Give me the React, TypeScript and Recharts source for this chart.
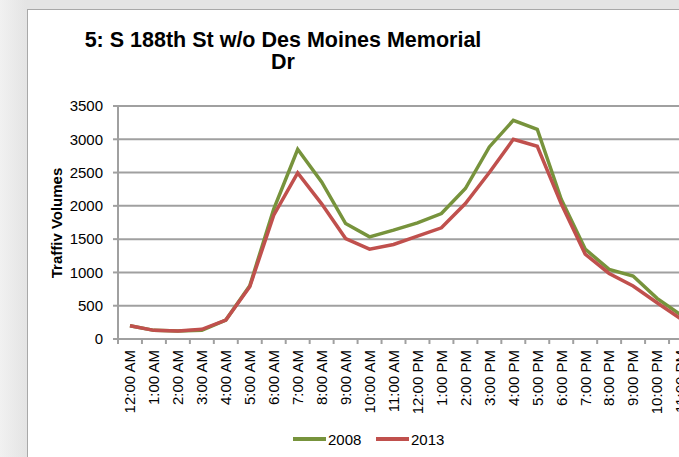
import React from "react";
import { LineChart, Line, XAxis, YAxis, CartesianGrid } from "recharts";

const hours = [
  "12:00 AM", "1:00 AM", "2:00 AM", "3:00 AM", "4:00 AM", "5:00 AM",
  "6:00 AM", "7:00 AM", "8:00 AM", "9:00 AM", "10:00 AM", "11:00 AM",
  "12:00 PM", "1:00 PM", "2:00 PM", "3:00 PM", "4:00 PM", "5:00 PM",
  "6:00 PM", "7:00 PM", "8:00 PM", "9:00 PM", "10:00 PM", "11:00 PM",
];
const vol2008 = [
  200, 130, 120, 130, 285, 800, 1950, 2850, 2360, 1735, 1535, 1635,
  1745, 1885, 2260, 2885, 3285, 3150, 2100, 1350, 1045, 945, 610, 360,
];
const vol2013 = [
  200, 130, 120, 145, 285, 785, 1860, 2495, 2030, 1510, 1350, 1420,
  1545, 1670, 2035, 2500, 3000, 2895, 2030, 1275, 985, 795, 545, 300,
];
const yTicks = [0, 500, 1000, 1500, 2000, 2500, 3000, 3500];

const data = hours.map((hour, i) => ({ hour, v2008: vol2008[i], v2013: vol2013[i] }));

const GREEN = "#77933C";
const RED = "#C0504D";
const GRID = "#a0a0a0";
const CHART_W = 720;
const MARGIN_R = 27;
const AXIS_W = 118;
const BAND = (CHART_W - MARGIN_R - AXIS_W) / hours.length;

// tick marks sit between categories, labels at the category centre
const HourTick = (props: any) => {
  const { x, y, payload } = props;
  const ty = y + 11;
  return (
    <g>
      <line x1={x - BAND / 2} y1={y} x2={x - BAND / 2} y2={y + 5} stroke={GRID} strokeWidth={2} />
      <text
        x={x}
        y={ty}
        transform={`rotate(-90 ${x} ${ty})`}
        textAnchor="end"
        dy="0.355em"
        fontSize={15}
        fill="#000"
      >
        {payload.value}
      </text>
    </g>
  );
};

export default function App() {
  return (
    <div
      style={{
        position: "fixed",
        left: 0,
        top: 0,
        width: 679,
        height: 457,
        overflow: "hidden",
        background: "linear-gradient(to right, #f1f1f1 0px, #e4e4e4 26px, #e4e4e4 100%)",
        fontFamily: "'Liberation Sans', Arial, sans-serif",
      }}
    >
      <div
        style={{
          position: "absolute",
          left: 27,
          top: 9,
          width: 720,
          height: 500,
          background: "#fff",
          borderLeft: "1px solid #a8a8a8",
          borderTop: "1px solid #a8a8a8",
        }}
      />
      <div style={{ position: "absolute", left: 0, top: 0 }}>
        <LineChart
          width={CHART_W}
          height={457}
          data={data}
          margin={{ top: 106, right: MARGIN_R, left: 0, bottom: 0 }}
        >
          <CartesianGrid vertical={false} stroke={GRID} strokeWidth={2} />
          <XAxis
            dataKey="hour"
            height={118}
            interval={0}
            padding={{ left: BAND / 2, right: BAND / 2 }}
            tickSize={0}
            tickMargin={0}
            tickLine={false}
            axisLine={{ stroke: GRID, strokeWidth: 2 }}
            tick={<HourTick />}
          />
          <YAxis
            width={AXIS_W}
            domain={[0, 3500]}
            ticks={yTicks}
            tickSize={5}
            tickMargin={10}
            tickLine={{ stroke: GRID, strokeWidth: 2 }}
            axisLine={{ stroke: GRID, strokeWidth: 2 }}
            tick={{ fontSize: 15, fill: "#000" }}
          />
          <Line dataKey="v2008" stroke={GREEN} strokeWidth={3.5} dot={false} isAnimationActive={false} />
          <Line dataKey="v2013" stroke={RED} strokeWidth={3.5} dot={false} isAnimationActive={false} />
        </LineChart>
      </div>
      <svg
        width={679}
        height={457}
        style={{ position: "absolute", left: 0, top: 0, pointerEvents: "none" }}
      >
        <text x={283} y={47} textAnchor="middle" fontSize={21.5} fontWeight="bold" fill="#000">
          5: S 188th St w/o Des Moines Memorial
        </text>
        <text x={283} y={69} textAnchor="middle" fontSize={21.5} fontWeight="bold" fill="#000">
          Dr
        </text>
        <text
          x={62}
          y={223}
          transform="rotate(-90 62 223)"
          textAnchor="middle"
          fontSize={15}
          fontWeight="bold"
          fill="#000"
        >
          Traffiv Volumes
        </text>
        <line x1={293} y1={439} x2={326} y2={439} stroke={GREEN} strokeWidth={4} />
        <text x={328} y={445} fontSize={15} fill="#000">2008</text>
        <line x1={376} y1={439} x2={409} y2={439} stroke={RED} strokeWidth={4} />
        <text x={411} y={445} fontSize={15} fill="#000">2013</text>
      </svg>
    </div>
  );
}
